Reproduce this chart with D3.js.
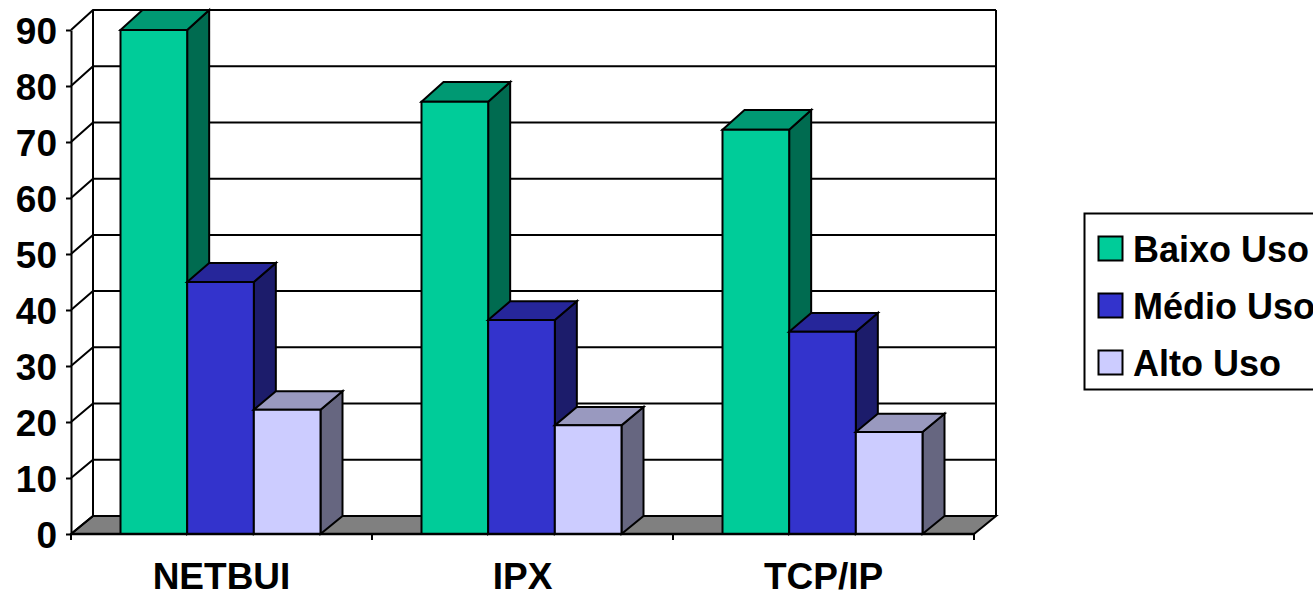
<!DOCTYPE html>
<html><head><meta charset="utf-8">
<script src="https://cdn.jsdelivr.net/npm/d3@7/dist/d3.min.js"></script>
<style>html,body{margin:0;padding:0;background:#fff;overflow:hidden}svg{display:block}text{font-family:"Liberation Sans",Arial,sans-serif;font-weight:bold;fill:#000}</style>
</head><body><svg id="c" width="1313" height="593"></svg>
<script>
const categories = ["NETBUI","IPX","TCP/IP"];
const seriesNames = ["Baixo Uso","Médio Uso","Alto Uso"];
const baixoUso = [90,77.2,72.2];
const medioUso = [45,38.2,36.1];
const altoUso = [22.2,19.4,18.2];
const yTicks = [0,10,20,30,40,50,60,70,80,90];
const seriesValues = [baixoUso,medioUso,altoUso];
const colors = ["#00CC99","#3333CC","#CCCCFF"];
const sideColors = ["#006B50","#1C1C6B","#666680"];
const topColors = ["#009973","#26269A","#9999BF"];

const svg = d3.select("#c");
const SW = 2;
const x = d3.scaleBand().domain(categories).range([71,974]);
const xs = d3.scaleBand().domain(seriesNames).range([49.5,249.5]);
const y = d3.scaleLinear().domain([0,90]).range([534,30]);
const yb = d3.scaleLinear().domain([0,90]).range([516,10]);
const dx = 22;
const poly = (pts,fill) => svg.append("polygon").attr("points",pts.map(p=>p.join(",")).join(" "))
  .attr("fill",fill).attr("stroke","#000").attr("stroke-width",SW).attr("stroke-linejoin","miter");
const L = 71, R = 974;

// floor
poly([[L,y(0)],[L+dx,yb(0)],[R+dx,yb(0)],[R,y(0)]],"#808080");
// walls and grid
const grid = svg.append("g").attr("fill","none").attr("stroke","#000").attr("stroke-width",SW);
yTicks.forEach(t=>{
  grid.append("path").attr("d",`M${L},${y(t)}L${L+dx},${yb(t)}L${R+dx},${yb(t)}`);
});
grid.append("path").attr("d",`M${L+dx},${yb(0)}V${yb(90)}M${R+dx},${yb(0)}V${yb(90)}`);

// bars
categories.forEach((c,ci)=>{
  seriesNames.forEach((s,si)=>{
    const v = seriesValues[si][ci];
    const x0 = x(c)+xs(s), x1 = x0+xs.bandwidth();
    poly([[x1,y(0)],[x1+dx,yb(0)],[x1+dx,yb(v)],[x1,y(v)]],sideColors[si]);
    poly([[x0,y(v)],[x0+dx,yb(v)],[x1+dx,yb(v)],[x1,y(v)]],topColors[si]);
    poly([[x0,y(0)],[x0,y(v)],[x1,y(v)],[x1,y(0)]],colors[si]);
  });
});

// axes
const gy = svg.append("g").attr("transform",`translate(${L},0)`)
  .call(d3.axisLeft(y).tickValues(yTicks).tickSize(5).tickPadding(9).tickSizeOuter(0));
gy.selectAll("path,line").attr("stroke","#000").attr("stroke-width",SW);
gy.selectAll("text").attr("font-size",37).attr("font-family",null).attr("dy","0.37em");
const gx = svg.append("g").attr("transform",`translate(0,${y(0)})`)
  .call(d3.axisBottom(x).tickSize(0).tickPadding(29));
gx.select("path").remove();
gx.selectAll("text").attr("font-size",37).attr("font-family",null);
const edges = categories.map(c=>x(c)).concat([R]);
svg.append("g").selectAll("line").data(edges).join("line")
  .attr("x1",d=>d).attr("x2",d=>d).attr("y1",y(0)).attr("y2",y(0)+6)
  .attr("stroke","#000").attr("stroke-width",SW);
svg.append("line").attr("x1",L).attr("x2",R).attr("y1",y(0)).attr("y2",y(0)).attr("stroke","#000").attr("stroke-width",SW+.4);

// legend
const lg = svg.append("g");
lg.append("rect").attr("x",1084.5).attr("y",213.5).attr("width",300).attr("height",176)
  .attr("fill","#fff").attr("stroke","#000").attr("stroke-width",SW);
const ly = d3.scalePoint().domain(seriesNames).range([248.5,362.5]);
seriesNames.forEach((s,i)=>{
  lg.append("rect").attr("x",1098.5).attr("y",ly(s)-12).attr("width",24).attr("height",24)
    .attr("fill",colors[i]).attr("stroke","#000").attr("stroke-width",SW);
  lg.append("text").attr("x",1133).attr("y",ly(s)+13.5).attr("font-size",36).text(s);
});
</script></body></html>
